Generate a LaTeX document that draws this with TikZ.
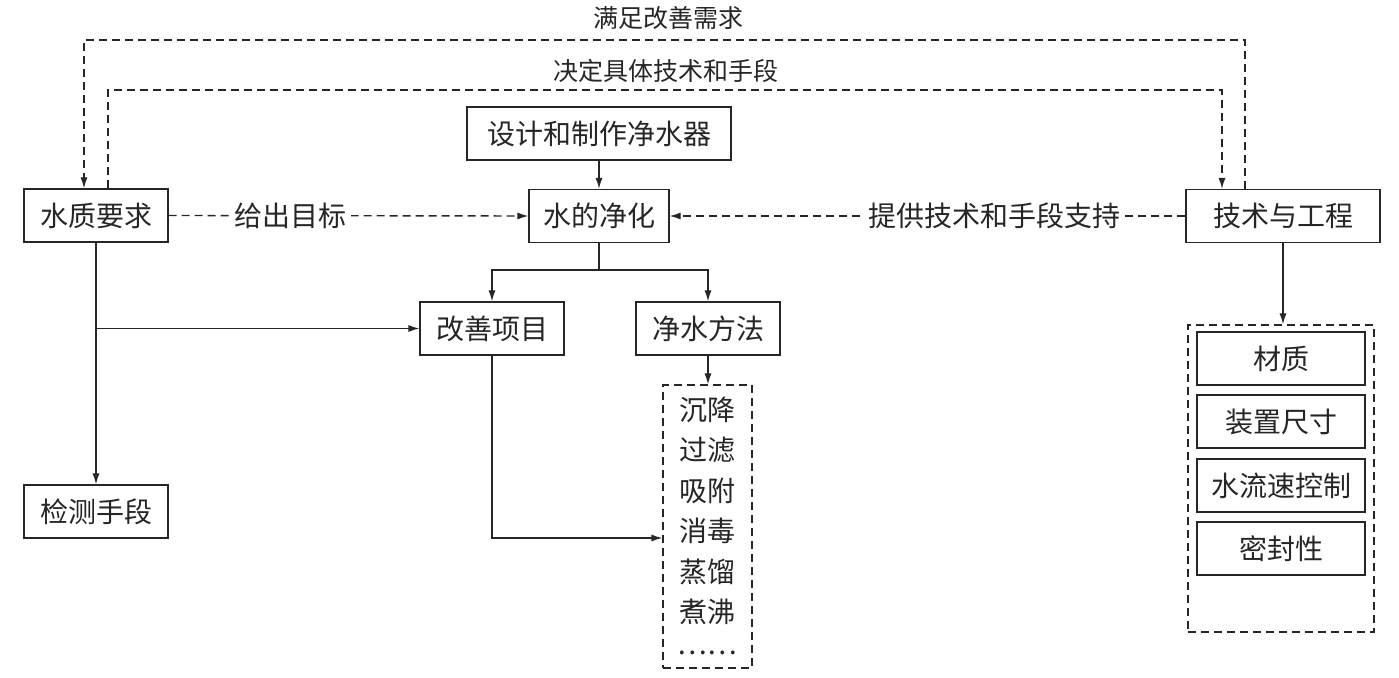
\documentclass[tikz,border=0pt]{standalone}
\usepackage{fontspec}
\newfontfamily\cjk{Noto Sans CJK SC}
\usetikzlibrary{arrows.meta}

\tikzset{
  box/.style={draw, line width=0.7pt, minimum height=26.5pt, inner sep=0pt, font=\cjk\fontsize{14}{14}\selectfont},
  dbox/.style={draw, dashed, dash pattern=on 4pt off 2.5pt, line width=0.7pt, inner sep=0pt},
  line/.style={line width=0.7pt},
  dline/.style={line width=0.7pt, dash pattern=on 4pt off 2.5pt},
  arr/.style={-{Latex[length=5.5pt,width=3.6pt]}},
  lbl/.style={fill=white, inner sep=2pt, font=\cjk\fontsize{14}{14}\selectfont},
  toplbl/.style={inner sep=0pt, font=\cjk\fontsize{12.5}{12.5}\selectfont}
}

\begin{document}
\begin{tikzpicture}[x=0.5pt, y=-0.5pt, color=black!85]
    \useasboundingbox (0,0) rectangle (1399,678);

    % Main boxes
    \node[box, minimum width=72pt] (req) at (96,215.5) {水质要求};
    \node[box, minimum width=132pt] (design) at (599,133.5) {设计和制作净水器};
    \node[box, minimum width=70pt] (purify) at (599,216) {水的净化};
    \node[box, minimum width=97pt] (tech) at (1283,216) {技术与工程};
    \node[box, minimum width=72pt] (improve) at (492,328.5) {改善项目};
    \node[box, minimum width=72pt] (method) at (708,328.5) {净水方法};
    \node[box, minimum width=72pt] (test) at (96,511.5) {检测手段};

    % Dashed list of methods
    \node[dbox, minimum width=44.5pt, minimum height=141.5pt] (list) at (707.5,526.5) {};
    \foreach \i/\t in {1/沉降, 2/过滤, 3/吸附, 4/消毒, 5/蒸馏, 6/煮沸, 7/……} {
      \node[toplbl, font=\cjk\fontsize{14}{14}\selectfont] (item\i) at (707.5,{369+40.5*\i}) {\t};
    }

    % Dashed box of technical items
    \node[dbox, minimum width=93pt, minimum height=153.5pt] (spec) at (1281,478.5) {};
    \foreach \i/\t/\y in {1/材质/358.5, 2/装置尺寸/421.5, 3/水流速控制/485.5, 4/密封性/548.5} {
      \node[box, minimum width=84pt] (spec\i) at (1281,\y) {\t};
    }

    % Top dashed feedback lines
    \coordinate (topa) at (0,40);
    \coordinate (topb) at (0,90);
    \draw[dline, arr] ([xshift=-19pt]tech.north) -- ([xshift=-19pt]tech.north |- topa) -| ([xshift=-6pt]req.north);
    \draw[dline, arr] ([xshift=6pt]req.north) -- ([xshift=6pt]req.north |- topb) -| ([xshift=-30.5pt]tech.north);
    \node[toplbl] (needs) at (668,18) {满足改善需求};
    \node[toplbl] (decide) at (666,71) {决定具体技术和手段};

    % Dashed links to the purification box
    \draw[dline, arr] (req.east) -- node[lbl, pos=0.34] {给出目标} (purify.west);
    \draw[dline, arr] (tech.west) -- node[lbl, pos=0.37] {提供技术和手段支持} (purify.east);

    % Solid links
    \draw[line, arr] (design.south) -- (purify.north);
    \coordinate (split) at (599,270);
    \draw[line, arr] (purify.south) -- (split) -| (improve.north);
    \draw[line, arr] (split) -| (method.north);
    \draw[line, arr] (req.south) -- (test.north);
    \draw[line, arr] (req.south |- improve.west) -- (improve.west);
    \draw[line, arr] (improve.south) |- ([yshift=-5.75pt]list.west);
    \draw[line, arr] (method.south) -- (method.south |- list.north);
    \draw[line, arr] (tech.south) -- (tech.south |- spec.north);
\end{tikzpicture}
\end{document}
